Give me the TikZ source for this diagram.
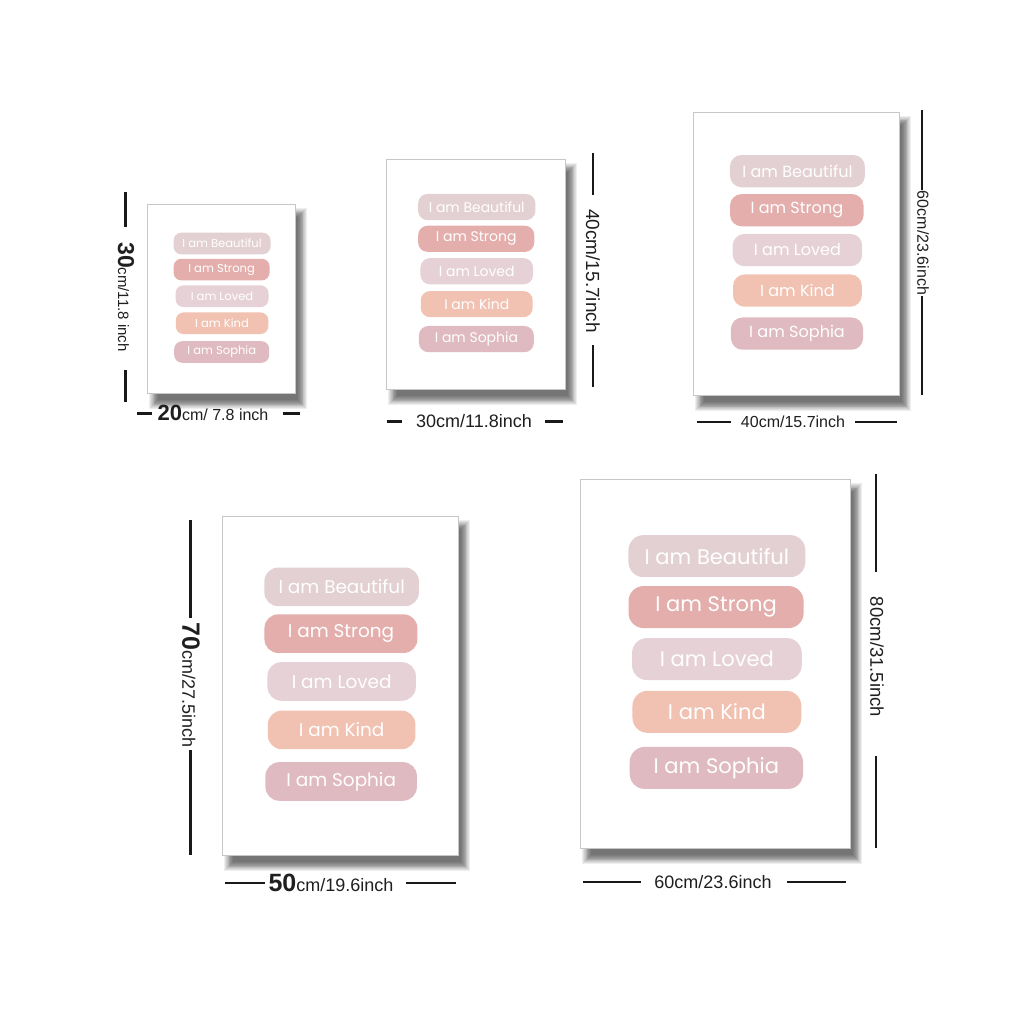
\documentclass[tikz,border=0pt]{standalone}
\usepackage{fontspec}
\newfontfamily\pfont{Poppins}
\newfontfamily\dfont{Liberation Sans}
\definecolor{cB}{HTML}{E3D0D2}
\definecolor{cS}{HTML}{E3AEAC}
\definecolor{cL}{HTML}{E6D2D6}
\definecolor{cK}{HTML}{F1C2B2}
\definecolor{cP}{HTML}{DFBAC0}
\tikzset{
  frame/.style={draw=black!22, line width=0.5pt, fill=white, inner sep=0pt, outer sep=0pt},
  bar/.style={inner sep=0pt, text=white},
  dimln/.style={black!90, line width=#1},
  dimtxt/.style={inner sep=0pt, font=\dfont, text=black!88}
}
\newcommand\poster[5]{%
  \pgfmathsetmacro\pfs{0.078*#3}%
  \pgfmathsetmacro\pbh{0.114*#4}%
  \pgfmathsetmacro\pbw{0.655*#3}%
  \pgfmathsetmacro\prc{0.36*\pbh}%
  \foreach \k in {0,...,10}{\fill[black,opacity=0.065] ({#1+2+0.9*\k},{#2+4+0.9*\k}) rectangle ({#1+#3+12-0.9*\k},{#2+#4+16-0.9*\k});}
  \node[frame, anchor=north west, minimum width=#3, minimum height=#4] (#5) at (#1,#2) {};
  \foreach \f/\c/\t/\s/\o [count=\i] in {0.209/cB/Beautiful/1.0/0, 0.347/cS/Strong/0.99/-0.003, 0.488/cL/Loved/0.96/0, 0.631/cK/Kind/0.955/0, 0.783/cP/Sophia/0.98/-0.002}{%
    \pgfmathsetmacro\bw{\s*\pbw}%
    \node[bar, fill=\c, minimum width=\bw, minimum height=\pbh, rounded corners=\prc,
          font=\pfont\fontsize{\pfs}{\pfs}\selectfont] (#5b\i) at ({#1+(0.507+\o)*#3},{#2+\f*#4}) {I am \t};
  }%
}
\begin{document}
\begin{tikzpicture}[x=1pt,y=-1pt]
\useasboundingbox[fill=white] (0,0) rectangle (1024,1024);

\poster{147}{204}{148}{189}{pa}
\poster{386}{159}{179}{230}{pb}
\poster{693}{112}{206}{283}{pc}
\poster{222}{516}{236}{339}{pd}
\poster{580}{479}{270}{369}{pe}

% poster 1 dimensions
\coordinate (a1) at (125,192); \coordinate (a2) at (125,227);
\coordinate (a3) at (125,370); \coordinate (a4) at (125,402);
\draw[dimln=3pt] (a1) -- (a2); \draw[dimln=3pt] (a3) -- (a4);
\node[dimtxt, rotate=-90] (ta) at (126,297) {{\fontsize{23}{23}\selectfont\bfseries 30}{\fontsize{15}{15}\selectfont cm/11.8 inch}};
\coordinate (a5) at (137,413); \coordinate (a6) at (152,413);
\coordinate (a7) at (283,413); \coordinate (a8) at (300,413);
\draw[dimln=3pt] (a5) -- (a6); \draw[dimln=3pt] (a7) -- (a8);
\node[dimtxt] (tb) at (213,413) {{\fontsize{22}{22}\selectfont\bfseries 20}{\fontsize{16}{16}\selectfont cm/ 7.8 inch}};

% poster 2 dimensions
\coordinate (b1) at (593,153); \coordinate (b2) at (593,195);
\coordinate (b3) at (593,345); \coordinate (b4) at (593,387);
\draw[dimln=2pt] (b1) -- (b2); \draw[dimln=2pt] (b3) -- (b4);
\node[dimtxt, rotate=-90, font=\dfont\fontsize{19}{19}\selectfont] (tc) at (593,271) {40cm/15.7inch};
\coordinate (b5) at (387,421); \coordinate (b6) at (402,421);
\coordinate (b7) at (545,421); \coordinate (b8) at (563,421);
\draw[dimln=3pt] (b5) -- (b6); \draw[dimln=3pt] (b7) -- (b8);
\node[dimtxt, font=\dfont\fontsize{18}{18}\selectfont] (td) at (474,421) {30cm/11.8inch};

% poster 3 dimensions
\coordinate (c1) at (922,110); \coordinate (c2) at (922,190);
\coordinate (c3) at (922,296); \coordinate (c4) at (922,395);
\draw[dimln=2pt] (c1) -- (c2); \draw[dimln=2pt] (c3) -- (c4);
\node[dimtxt, rotate=-90, font=\dfont\fontsize{16}{16}\selectfont] (te) at (923,243) {60cm/23.6inch};
\coordinate (c5) at (697,422); \coordinate (c6) at (731,422);
\coordinate (c7) at (855,422); \coordinate (c8) at (897,422);
\draw[dimln=1.5pt] (c5) -- (c6); \draw[dimln=1.5pt] (c7) -- (c8);
\node[dimtxt, font=\dfont\fontsize{16}{16}\selectfont] (tf) at (793,422) {40cm/15.7inch};

% poster 4 dimensions
\coordinate (d1) at (190,520); \coordinate (d2) at (190,618);
\coordinate (d3) at (190,750); \coordinate (d4) at (190,855);
\draw[dimln=3pt] (d1) -- (d2); \draw[dimln=3pt] (d3) -- (d4);
\node[dimtxt, rotate=-90] (tg) at (191,685) {{\fontsize{25}{25}\selectfont\bfseries 70}{\fontsize{18}{18}\selectfont cm/27.5inch}};
\coordinate (d5) at (225,883); \coordinate (d6) at (265,883);
\coordinate (d7) at (406,883); \coordinate (d8) at (456,883);
\draw[dimln=2pt] (d5) -- (d6); \draw[dimln=2pt] (d7) -- (d8);
\node[dimtxt] (th) at (331,883) {{\fontsize{25}{25}\selectfont\bfseries 50}{\fontsize{18}{18}\selectfont cm/19.6inch}};

% poster 5 dimensions
\coordinate (e1) at (876,474); \coordinate (e2) at (876,572);
\coordinate (e3) at (876,756); \coordinate (e4) at (876,848);
\draw[dimln=2.5pt] (e1) -- (e2); \draw[dimln=2.5pt] (e3) -- (e4);
\node[dimtxt, rotate=-90, font=\dfont\fontsize{18.5}{18.5}\selectfont] (ti) at (877,657) {80cm/31.5inch};
\coordinate (e5) at (583,882); \coordinate (e6) at (641,882);
\coordinate (e7) at (787,882); \coordinate (e8) at (846,882);
\draw[dimln=2pt] (e5) -- (e6); \draw[dimln=2pt] (e7) -- (e8);
\node[dimtxt, font=\dfont\fontsize{18}{18}\selectfont] (tj) at (713,882) {60cm/23.6inch};
\end{tikzpicture}
\end{document}
